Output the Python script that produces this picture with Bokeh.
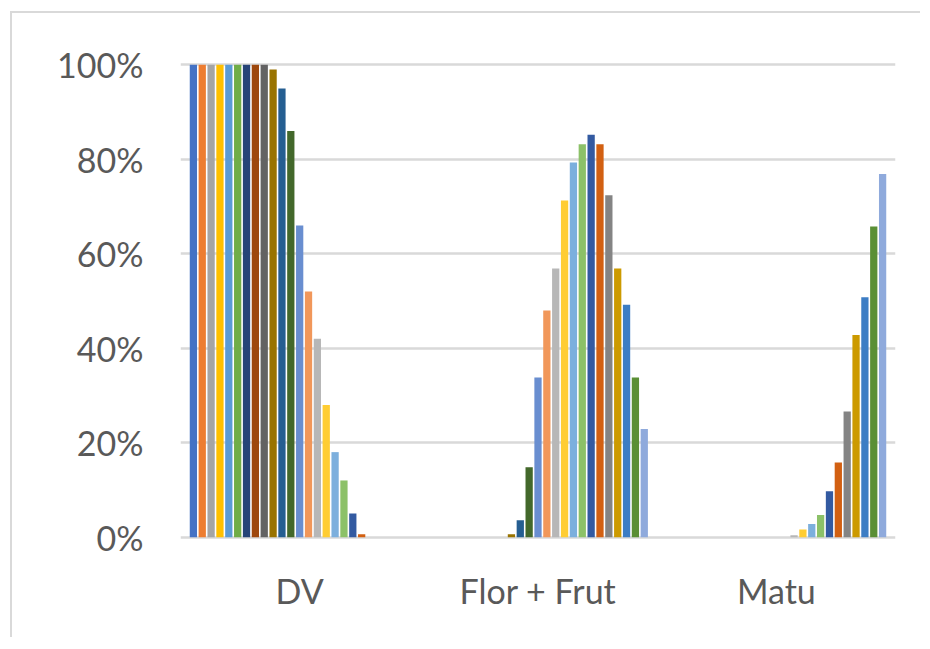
from bokeh.plotting import figure
from bokeh.models import ColumnDataSource, FactorRange, Range1d, NumeralTickFormatter, FixedTicker
from bokeh.transform import dodge
from bokeh.embed import file_html
from bokeh.resources import INLINE

categories = ["DV", "Flor + Frut", "Matu"]
series_names = [f"S{i}" for i in range(1, 26)]
dv_values = [1.0, 1.0, 1.0, 1.0, 1.0, 1.0, 1.0, 1.0, 1.0, 0.99, 0.95, 0.86, 0.66, 0.52, 0.42,
             0.28, 0.18, 0.12, 0.05, 0.006, 0.0, 0.0, 0.0, 0.0, 0.0]
flor_values = [0.0, 0.0, 0.0, 0.0, 0.0, 0.0, 0.0, 0.0, 0.0, 0.006, 0.036, 0.148, 0.338, 0.48, 0.569,
               0.713, 0.793, 0.832, 0.852, 0.832, 0.724, 0.569, 0.492, 0.338, 0.229]
matu_values = [0.0, 0.0, 0.0, 0.0, 0.0, 0.0, 0.0, 0.0, 0.0, 0.0, 0.0, 0.0, 0.0, 0.0, 0.004,
               0.016, 0.028, 0.047, 0.097, 0.158, 0.266, 0.428, 0.508, 0.658, 0.769]
y_ticks = [0, 0.2, 0.4, 0.6, 0.8, 1.0]

colors = ["#4472C4", "#ED7D31", "#A5A5A5", "#FFC000", "#5B9BD5", "#70AD47",
          "#264478", "#9E480E", "#636363", "#997300", "#255E91", "#43682B",
          "#698ED0", "#F1975A", "#B7B7B7", "#FFCD33", "#7CAFDD", "#8CC168",
          "#335AA1", "#D26012", "#848484", "#CC9A00", "#3C7DC4", "#5A8F35",
          "#8FAADC"]

data = {"cat": categories}
for i, name in enumerate(series_names):
    data[name] = [dv_values[i], flor_values[i], matu_values[i]]
source = ColumnDataSource(data)

W, H = 910, 626
p = figure(x_range=FactorRange(*categories, range_padding=0),
           y_range=Range1d(-0.005, 1.005),
           width=W, height=H, output_backend="svg", toolbar_location=None,
           min_border_left=168, min_border_right=27, min_border_top=49, min_border_bottom=100,
           styles={"border-top": "2px solid #D9D9D9", "border-left": "2px solid #D9D9D9",
                   "margin-left": "10px", "margin-top": "11px"})

n = len(series_names)
slot = 0.929 / n
for i, name in enumerate(series_names):
    p.vbar(x=dodge("cat", (i - (n - 1) / 2) * slot, range=p.x_range), top=name, bottom=0,
           width=slot * 0.82, source=source, fill_color=colors[i], line_color=None)

p.outline_line_color = None
p.background_fill_color = "white"
p.border_fill_color = "white"
p.xgrid.grid_line_color = None
p.ygrid.grid_line_color = "#D9D9D9"
p.ygrid.grid_line_width = 2.5

p.yaxis.ticker = FixedTicker(ticks=y_ticks)
p.yaxis.formatter = NumeralTickFormatter(format="0%")
for ax in (p.xaxis, p.yaxis):
    ax.axis_line_color = None
    ax.major_tick_line_color = None
    ax.minor_tick_line_color = None
    ax.major_tick_out = 0
    ax.major_tick_in = 0
    ax.major_label_text_font = "Lato"
    ax.major_label_text_font_size = "34px"
    ax.major_label_text_color = "#595959"
p.yaxis.major_label_standoff = 37
p.xaxis.major_label_standoff = 30

open("out.html", "w").write(file_html(p, INLINE))
